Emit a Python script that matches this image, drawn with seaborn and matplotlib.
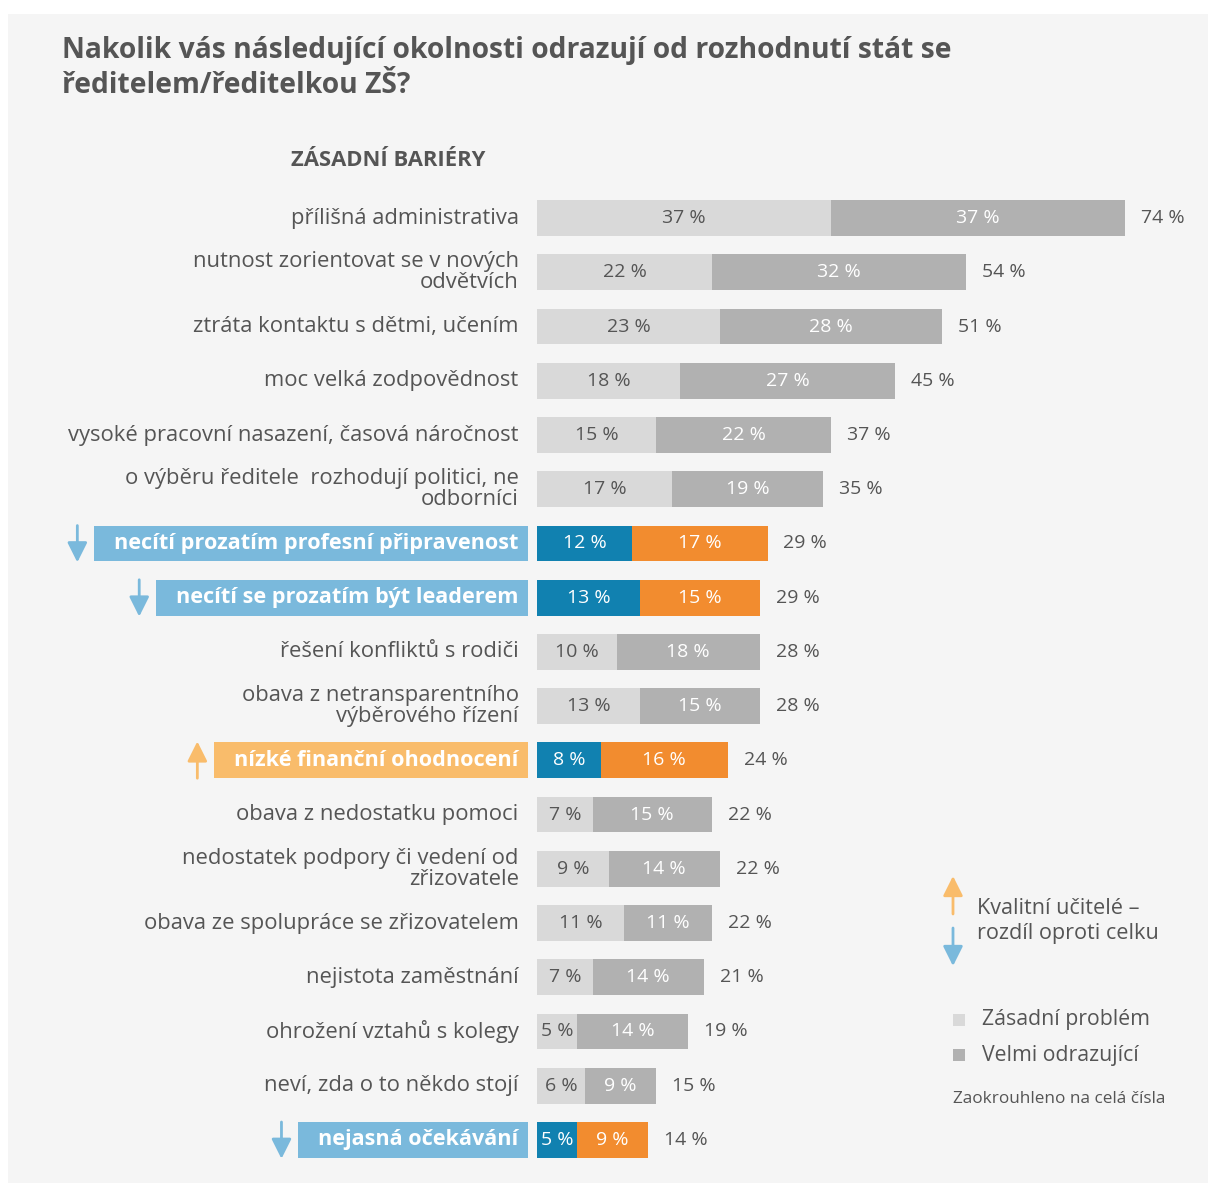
import matplotlib
matplotlib.use("Agg")
import matplotlib.pyplot as plt
from matplotlib.patches import Rectangle
from matplotlib.transforms import IdentityTransform
import pandas as pd
import seaborn as sns

labels = [
    "přílišná administrativa",
    "nutnost zorientovat se v nových\nodvětvích",
    "ztráta kontaktu s dětmi, učením",
    "moc velká zodpovědnost",
    "vysoké pracovní nasazení, časová náročnost",
    "o výběru ředitele  rozhodují politici, ne\nodborníci",
    "necítí prozatím profesní připravenost",
    "necítí se prozatím být leaderem",
    "řešení konfliktů s rodiči",
    "obava z netransparentního\nvýběrového řízení",
    "nízké finanční ohodnocení",
    "obava z nedostatku pomoci",
    "nedostatek podpory či vedení od\nzřizovatele",
    "obava ze spolupráce se zřizovatelem",
    "nejistota zaměstnání",
    "ohrožení vztahů s kolegy",
    "neví, zda o to někdo stojí",
    "nejasná očekávání",
]
zasadni = [37, 22, 23, 18, 15, 17, 12, 13, 10, 13, 8, 7, 9, 11, 7, 5, 6, 5]
velmi = [37, 32, 28, 27, 22, 19, 17, 15, 18, 15, 16, 15, 14, 11, 14, 14, 9, 9]
celkem = [74, 54, 51, 45, 37, 35, 29, 29, 28, 28, 24, 22, 22, 22, 21, 19, 15, 14]
posun = ["", "", "", "", "", "", "down", "down", "", "", "up", "", "", "", "", "", "", "down"]

TXT = "#555555"
LIGHT = "#d9d9d9"
DARK = "#b1b1b1"
BLUE = "#1181b0"
ORANGE = "#f28c2f"
BOX_BLUE = "#7ab9dc"
BOX_ORANGE = "#f9bc6b"
PANEL = "#f5f5f5"

sns.set_theme(style="white")
plt.rcParams["font.family"] = ["Open Sans", "DejaVu Sans"]

W, H = 1208, 1183
fig = plt.figure(figsize=(W / 100, H / 100), dpi=100)
fig.patch.set_facecolor("white")
fig.add_artist(Rectangle((8 / W, 0), 1 - 8 / W, 1 - 14 / H, transform=fig.transFigure,
                         facecolor=PANEL, edgecolor="none", zorder=-5))

# px per percent ~7.95, zero at x=537
ax = fig.add_axes([537 / W, (H - 1167) / H, (W - 537) / W, (1167 - 191) / H])
ax.set_facecolor("none")

df = pd.DataFrame({"label": labels,
                   "stack": [a + b for a, b in zip(zasadni, velmi)],
                   "first": zasadni})
hl = [p != "" for p in posun]
dark_pal = [ORANGE if h else DARK for h in hl]
light_pal = [BLUE if h else LIGHT for h in hl]

sns.barplot(data=df, x="stack", y="label", hue="label", palette=dark_pal, legend=False,
            orient="h", width=0.66, errorbar=None, saturation=1, linewidth=0, ax=ax)
sns.barplot(data=df, x="first", y="label", hue="label", palette=light_pal, legend=False,
            orient="h", width=0.66, errorbar=None, saturation=1, linewidth=0, ax=ax)

ax.set_xlim(0, (W - 537) / 7.95)
ax.set_ylim(len(labels) - 0.5, -0.5)
ax.set_xticks([])
ax.set_yticks([])
ax.set_xlabel("")
ax.set_ylabel("")
for s in ax.spines.values():
    s.set_visible(False)

FS = 15.8
NFS = 14
label_texts = []
for i, lab in enumerate(labels):
    a, b = zasadni[i], velmi[i]
    c1 = "white" if hl[i] else TXT
    ax.text(a / 2, i, f"{a} %", ha="center", va="center", color=c1,
            fontsize=NFS, zorder=5)
    ax.text(a + b / 2, i, f"{b} %", ha="center", va="center", color="white",
            fontsize=NFS, zorder=5)
    ax.text(a + b + 2.0, i, f"{celkem[i]} %", ha="left", va="center", color=TXT,
            fontsize=NFS, zorder=5)
    if hl[i]:
        t = ax.text(-2.3, i, lab, ha="right", va="center", color="white", fontsize=15.6,
                    fontweight="bold", zorder=5, clip_on=False)
    else:
        t = ax.text(-2.3, i, lab, ha="right", va="center", color=TXT, fontsize=FS,
                    linespacing=1.0, zorder=5, clip_on=False)
    label_texts.append(t)

fig.canvas.draw()
renderer = fig.canvas.get_renderer()
bar_h = 0.66 * (1167 - 191) / len(labels)
for i, t in enumerate(label_texts):
    if not hl[i]:
        continue
    bb = t.get_window_extent(renderer)
    yc = ax.transData.transform((0, i))[1]
    x_right = ax.transData.transform((-1.13, 0))[0]
    x_left = bb.x0 - 20
    box_col = BOX_ORANGE if posun[i] == "up" else BOX_BLUE
    ax.add_patch(Rectangle((x_left, yc - bar_h / 2), x_right - x_left, bar_h,
                           transform=IdentityTransform(), facecolor=box_col,
                           edgecolor="none", zorder=2, clip_on=False))
    ax_x = x_left - 17
    if posun[i] == "up":
        tail, tip = yc - bar_h / 2, yc + bar_h / 2 + 1
    else:
        tail, tip = yc + bar_h / 2, yc - bar_h / 2 - 1
    ax.annotate("", xy=(ax_x, tip), xytext=(ax_x, tail), xycoords="figure pixels",
                textcoords="figure pixels", annotation_clip=False,
                arrowprops=dict(arrowstyle="-|>,head_width=0.3,head_length=0.6",
                                color=box_col, lw=2.0, mutation_scale=20,
                                shrinkA=0, shrinkB=0))

# title and section header
fig.text(62 / W, 1 - 36 / H,
         "Nakolik vás následující okolnosti odrazují od rozhodnutí stát se\nředitelem/ředitelkou ZŠ?",
         ha="left", va="top", fontsize=20.3, fontweight="bold", color=TXT, linespacing=1.27)
fig.text(291 / W, 1 - 160 / H, "ZÁSADNÍ BARIÉRY", ha="left", va="center",
         fontsize=15.8, fontweight="bold", color=TXT)

# legend: arrows
arrow_kw = dict(xycoords="figure pixels", textcoords="figure pixels")
fig.add_artist(plt.Annotation("", xy=(953, H - 876), xytext=(953, H - 914), **arrow_kw,
                              arrowprops=dict(arrowstyle="-|>,head_width=0.3,head_length=0.6",
                                              color=BOX_ORANGE, lw=2.0, mutation_scale=20,
                                              shrinkA=0, shrinkB=0)))
fig.add_artist(plt.Annotation("", xy=(953, H - 966), xytext=(953, H - 928), **arrow_kw,
                              arrowprops=dict(arrowstyle="-|>,head_width=0.3,head_length=0.6",
                                              color=BOX_BLUE, lw=2.0, mutation_scale=20,
                                              shrinkA=0, shrinkB=0)))
fig.text(977 / W, 1 - 921 / H, "Kvalitní učitelé –\nrozdíl oproti celku", ha="left",
         va="center", fontsize=15.6, color=TXT, linespacing=1.3)

# legend: squares
for yy, col, name in [(1020, LIGHT, "Zásadní problém"), (1055, DARK, "Velmi odrazující")]:
    fig.add_artist(Rectangle((953 / W, 1 - (yy + 6) / H), 12 / W, 12 / H,
                             transform=fig.transFigure, facecolor=col, edgecolor="none"))
    fig.text(982 / W, 1 - yy / H, name, ha="left", va="center", fontsize=15.3, color=TXT)
fig.text(953 / W, 1 - 1099 / H, "Zaokrouhleno na celá čísla", ha="left", va="center",
         fontsize=12.3, color=TXT)

fig.savefig("out.png", dpi=100, facecolor=fig.get_facecolor())
